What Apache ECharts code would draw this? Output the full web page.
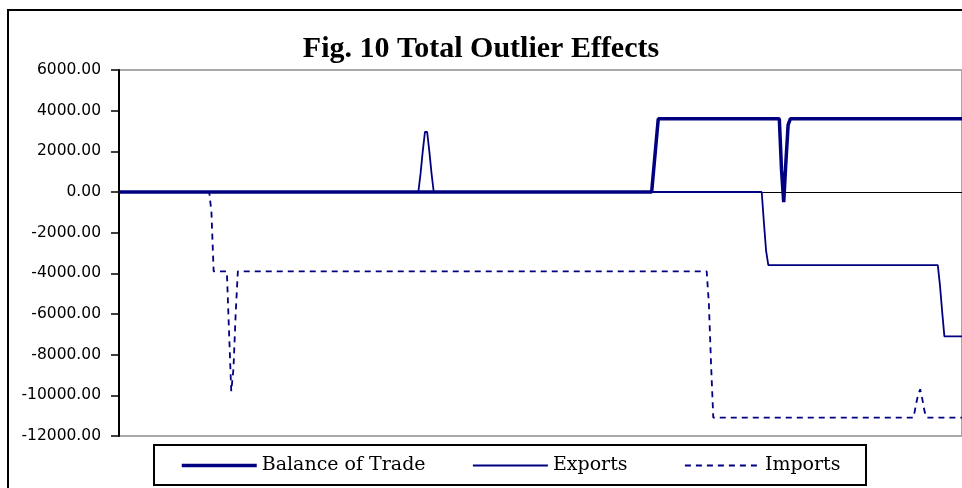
<!DOCTYPE html>
<html>
<head>
<meta charset="utf-8">
<title>Fig. 10 Total Outlier Effects</title>
<script src="https://cdn.jsdelivr.net/npm/echarts@6/dist/echarts.min.js"></script>
<style>
  html, body { margin: 0; padding: 0; background: #fff; }
  #chart { width: 962px; height: 488px; }
</style>
</head>
<body>
<div id="chart"></div>
<script>
// period index (0..383) and value at each breakpoint
const periodCount = 384;
const yTicks = [-12000, -10000, -8000, -6000, -4000, -2000, 0, 2000, 4000, 6000];

const balanceOfTrade = [
    [0, 0], [242, 0], [243, 1200], [244, 2400], [245, 3600],
    [300, 3600], [301, 1100], [302, -500], [303, 1500], [304, 3300], [305, 3600],
    [383, 3600]
];

const exportsEffect = [
    [0, 0], [136, 0], [137, 900], [138, 2000], [139, 2950], [140, 2950],
    [141, 2000], [142, 900], [143, 0],
    [292, 0], [293, -1500], [294, -2900], [295, -3600],
    [372, -3600], [373, -4600], [374, -5900], [375, -7100],
    [383, -7100]
];

const importsEffect = [
    [0, 0], [41, 0], [42, -1000], [43, -3900],
    [49, -3900], [50, -6900], [51, -9800], [52, -8700], [53, -6000], [54, -3900],
    [267, -3900], [268, -5500], [269, -8500], [270, -11100],
    [361, -11100], [362, -10500], [363, -10000], [364, -9700], [365, -10200], [366, -10800], [367, -11100],
    [383, -11100]
];

const navy = '#000080';
const chart = echarts.init(document.getElementById('chart'));

// one legend per entry so each sample sits where it does in the figure
function legendAt(name, left, lineWidth) {
    return {
        data: [name],
        left: left,
        top: 456,
        padding: 0,
        itemWidth: 75,
        itemHeight: 14,
        selectedMode: false,
        itemStyle: { opacity: 0 },
        lineStyle: { width: lineWidth },
        textStyle: { fontFamily: 'DejaVu Serif', fontSize: 19, color: '#000' }
    };
}

chart.setOption({
    animation: false,
    backgroundColor: '#fff',
    title: {
        text: 'Fig. 10 Total Outlier Effects',
        left: 'center',
        top: 29,
        textStyle: { fontFamily: 'Liberation Serif', fontWeight: 'bold', fontSize: 30, color: '#000' }
    },
    grid: {
        left: 119, top: 70, right: -2, bottom: 52,
        show: true,
        borderColor: '#a8a8a8',
        borderWidth: 2
    },
    legend: [
        legendAt('Balance of Trade', 180, 3.5),
        legendAt('Exports', 472, 1.8),
        legendAt('Imports', 684, 1.8)
    ],
    xAxis: {
        type: 'value',
        min: 0,
        max: periodCount - 1,
        axisLine: { onZero: true, lineStyle: { color: '#000', width: 1.2 } },
        axisTick: { show: false },
        axisLabel: { show: false },
        splitLine: { show: false }
    },
    yAxis: {
        type: 'value',
        min: yTicks[0],
        max: yTicks[yTicks.length - 1],
        interval: 2000,
        z: 3,
        axisLine: { show: true, lineStyle: { color: '#000', width: 2 } },
        axisTick: { show: true, length: 8, lineStyle: { color: '#000', width: 1.5 } },
        axisLabel: {
            margin: 18,
            fontFamily: 'DejaVu Sans',
            fontSize: 15.5,
            color: '#000',
            formatter: v => v.toFixed(2)
        },
        splitLine: { show: false }
    },
    series: [
        {
            name: 'Balance of Trade',
            type: 'line',
            data: balanceOfTrade,
            showSymbol: false,
            symbol: 'none',
            lineStyle: { color: navy, width: 3.5 },
            itemStyle: { color: navy }
        },
        {
            name: 'Exports',
            type: 'line',
            data: exportsEffect,
            showSymbol: false,
            symbol: 'none',
            lineStyle: { color: navy, width: 1.8 },
            itemStyle: { color: navy }
        },
        {
            name: 'Imports',
            type: 'line',
            data: importsEffect,
            showSymbol: false,
            symbol: 'none',
            lineStyle: { color: navy, width: 1.8, type: [6, 5] },
            itemStyle: { color: navy }
        }
    ],
    graphic: [
        {
            type: 'rect',
            shape: { x: 8, y: 10, width: 1000, height: 520 },
            style: { fill: 'none', stroke: '#000', lineWidth: 2 },
            silent: true
        },
        {
            type: 'rect',
            shape: { x: 154, y: 445, width: 712, height: 40 },
            style: { fill: 'none', stroke: '#000', lineWidth: 2 },
            silent: true
        }
    ]
});
</script>
</body>
</html>
